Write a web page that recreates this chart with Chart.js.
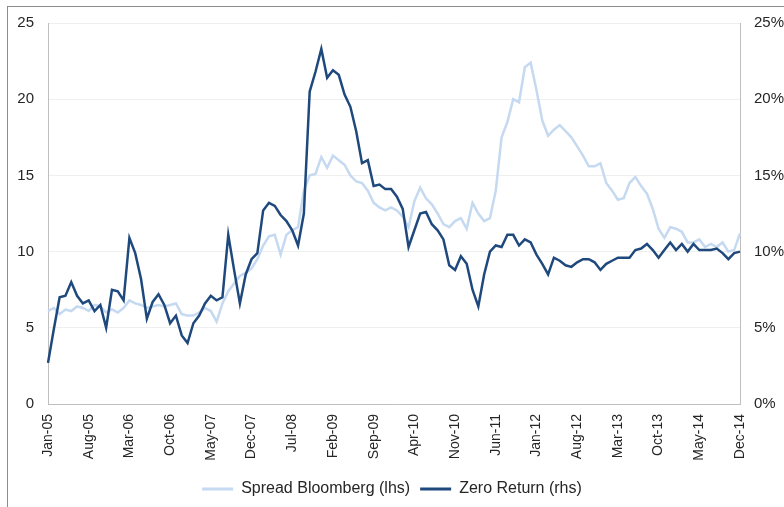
<!DOCTYPE html>
<html>
<head>
<meta charset="utf-8">
<script src="https://cdn.jsdelivr.net/npm/chart.js@4"></script>
<style>
  html, body { margin: 0; padding: 0; background: #fff; }
  #frame { position: absolute; left: 7px; top: 6px; width: 800px; height: 520px; border: 1px solid #8c8c8c; }
  #wrap { position: absolute; left: 0; top: 0; width: 784px; height: 507px; }
</style>
</head>
<body>
<div id="frame"></div>
<div id="wrap"><canvas id="c" width="784" height="507"></canvas></div>
<script>
const monthNames = ['Jan','Feb','Mar','Apr','May','Jun','Jul','Aug','Sep','Oct','Nov','Dec'];
const years = ['05','06','07','08','09','10','11','12','13','14'];
const categories = [];
years.forEach(y => monthNames.forEach(m => categories.push(m + '-' + y)));

const spreadBloomberg = [
  6.1, 6.3, 5.9, 6.2, 6.1, 6.4, 6.3, 6.1, 6.5, 6.4, 6.0, 6.2,
  6.0, 6.3, 6.8, 6.6, 6.5, 6.3, 6.4, 6.5, 6.4, 6.5, 6.6, 5.9,
  5.8, 5.8, 6.0, 6.3, 6.1, 5.4, 6.6, 7.4, 7.9, 8.4, 8.6, 8.9,
  9.5, 10.4, 11.0, 11.1, 9.8, 11.1, 11.4, 11.6, 14.0, 15.0, 15.1, 16.2,
  15.5, 16.3, 16.0, 15.7, 15.0, 14.6, 14.5, 14.0, 13.2, 12.9, 12.7, 12.9,
  12.7, 12.3, 11.6, 13.3, 14.2, 13.5, 13.1, 12.5, 11.8, 11.6, 12.0, 12.2,
  11.5, 13.2, 12.5, 12.0, 12.2, 14.0, 17.5, 18.5, 20.0, 19.8, 22.1, 22.4,
  20.6, 18.6, 17.6, 18.0, 18.3, 17.9, 17.5, 16.9, 16.3, 15.6, 15.6, 15.8,
  14.5, 14.0, 13.4, 13.5, 14.5, 14.9, 14.3, 13.8, 12.8, 11.5, 10.9, 11.6,
  11.5, 11.3, 10.6, 10.6, 10.8, 10.3, 10.5, 10.3, 10.6, 10.0, 10.1, 11.2
];

const zeroReturn = [
  2.7, 4.9, 7.0, 7.1, 8.0, 7.1, 6.6, 6.8, 6.1, 6.5, 5.0, 7.5,
  7.4, 6.8, 10.9, 9.9, 8.2, 5.6, 6.7, 7.2, 6.5, 5.3, 5.8, 4.5,
  4.0, 5.3, 5.8, 6.6, 7.1, 6.8, 7.0, 11.1, 8.8, 6.6, 8.5, 9.5,
  9.9, 12.7, 13.2, 13.0, 12.4, 12.0, 11.4, 10.4, 12.5, 20.5, 21.8, 23.3,
  21.4, 21.9, 21.6, 20.3, 19.5, 17.9, 15.8, 16.0, 14.3, 14.4, 14.1, 14.1,
  13.6, 12.8, 10.3, 11.4, 12.5, 12.6, 11.8, 11.4, 10.8, 9.1, 8.8, 9.7,
  9.2, 7.5, 6.4, 8.5, 10.0, 10.4, 10.3, 11.1, 11.1, 10.4, 10.8, 10.6,
  9.8, 9.2, 8.5, 9.6, 9.4, 9.1, 9.0, 9.3, 9.5, 9.5, 9.3, 8.8,
  9.2, 9.4, 9.6, 9.6, 9.6, 10.1, 10.2, 10.5, 10.1, 9.6, 10.1, 10.6,
  10.1, 10.5, 10.0, 10.5, 10.1, 10.1, 10.1, 10.2, 9.9, 9.5, 9.9, 10.0
];

const leftTicks = [0, 5, 10, 15, 20, 25];
const rightTicks = ['0%', '5%', '10%', '15%', '20%', '25%'];

const FONT = '"Liberation Sans", Arial, sans-serif';
const TXT = '#262626';

new Chart(document.getElementById('c'), {
  type: 'line',
  data: {
    labels: categories,
    datasets: [
      { label: 'Spread Bloomberg (lhs)', data: spreadBloomberg, yAxisID: 'y',
        borderColor: '#c5d9f1', backgroundColor: '#c5d9f1', borderWidth: 2.5,
        pointRadius: 0, tension: 0, order: 2 },
      { label: 'Zero Return (rhs)', data: zeroReturn, yAxisID: 'y1',
        borderColor: '#1f497d', backgroundColor: '#1f497d', borderWidth: 2.5,
        pointRadius: 0, tension: 0, order: 1 }
    ]
  },
  options: {
    responsive: false,
    animation: false,
    layout: { padding: { left: 0, right: 0, top: 22, bottom: 0 } },
    plugins: {
      tooltip: { enabled: false },
      legend: {
        position: 'bottom',
        labels: {
          font: { family: FONT, size: 16 },
          color: TXT,
          boxWidth: 31,
          boxHeight: 3,
          padding: 10,
          generateLabels(chart) {
            return chart.data.datasets.map((ds, i) => ({
              text: ds.label, fillStyle: ds.borderColor, strokeStyle: ds.borderColor,
              lineWidth: 0, hidden: false, datasetIndex: i, fontColor: TXT
            }));
          }
        }
      }
    },
    scales: {
      x: {
        type: 'category',
        offset: false,
        grid: { display: false, drawTicks: false },
        border: { color: '#bfbfbf', width: 1 },
        ticks: {
          autoSkip: false, maxRotation: 90, minRotation: 90, padding: 10,
          font: { family: FONT, size: 14 }, color: TXT,
          callback(v, i) { return i % 7 === 0 ? categories[i] : null; }
        },
        afterFit(s) { s.height = 67; }
      },
      y: {
        position: 'left', min: 0, max: 25,
        grid: { color: '#efefef', drawTicks: false },
        border: { color: '#bfbfbf', width: 1 },
        ticks: { stepSize: 5, padding: 14, font: { family: FONT, size: 15 }, color: TXT,
          callback(v) { return leftTicks.includes(v) ? String(v) : null; } },
        afterFit(s) { s.width = 48; }
      },
      y1: {
        position: 'right', min: 0, max: 25,
        grid: { display: false, drawTicks: false },
        border: { color: '#bfbfbf', width: 1 },
        ticks: { stepSize: 5, padding: 14, font: { family: FONT, size: 15 }, color: TXT,
          callback(v) { const i = leftTicks.indexOf(v); return i >= 0 ? rightTicks[i] : null; } },
        afterFit(s) { s.width = 44; }
      }
    }
  }
});
</script>
</body>
</html>
